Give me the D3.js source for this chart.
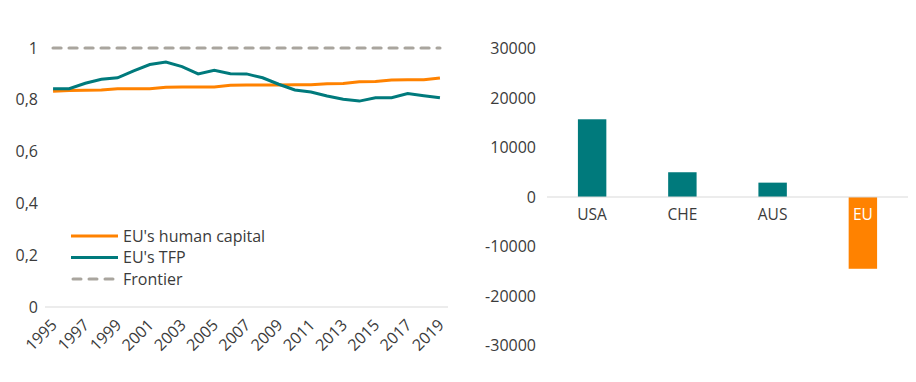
<!DOCTYPE html>
<html>
<head>
<meta charset="utf-8">
<script src="https://cdn.jsdelivr.net/npm/d3@7"></script>
<style>
  body { margin: 0; background: #fff; }
  svg { display: block; font-family: "Open Sans", sans-serif; }
</style>
</head>
<body>
<svg id="chart" width="916" height="382"></svg>
<script>
// Left panel: years and series
const years = d3.range(1995, 2020).map(String);
const humanCapital = [0.833, 0.836, 0.837, 0.838, 0.843, 0.843, 0.843, 0.848, 0.849, 0.849,
    0.849, 0.856, 0.857, 0.857, 0.857, 0.858, 0.858, 0.862, 0.863, 0.870, 0.871, 0.876, 0.877, 0.877, 0.884];
const tfp = [0.843, 0.843, 0.864, 0.879, 0.885, 0.912, 0.936, 0.946, 0.928, 0.900,
    0.914, 0.901, 0.900, 0.885, 0.860, 0.838, 0.830, 0.815, 0.802, 0.795, 0.808, 0.808, 0.824, 0.816, 0.808];
const frontier = years.map(() => 1);
const leftTicks = [0, 0.2, 0.4, 0.6, 0.8, 1];

// Right panel: countries and values
const countries = ["USA", "CHE", "AUS", "EU"];
const gaps = [15700, 5000, 2900, -14500];
const rightTicks = [-30000, -20000, -10000, 0, 10000, 20000, 30000];

const textColor = "#3b3b3b";
const teal = "#007a7c";
const orange = "#ff8200";
const grey = "#a9a59e";

const svg = d3.select("#chart");

// ---------- left line chart ----------
const xL = d3.scaleBand().domain(years).range([45, 448]);
const yL = d3.scaleLinear().domain([0, 1]).range([307, 48]);

const left = svg.append("g");

// y labels
left.selectAll(".ylab")
    .data(leftTicks)
    .enter()
    .append("text")
    .attr("x", 38)
    .attr("y", (d) => yL(d))
    .attr("dy", "0.35em")
    .attr("text-anchor", "end")
    .attr("fill", textColor)
    .style("font-size", "16px")
    .text((d) => d === 0 || d === 1 ? d : String(d).replace(".", ","));

// x axis line
left.append("line")
    .attr("x1", 45).attr("x2", 448)
    .attr("y1", yL(0)).attr("y2", yL(0))
    .attr("stroke", "#d9d9d9").attr("stroke-width", 1);

// year labels (every other year)
left.selectAll(".xlab")
    .data(years.filter((d, i) => i % 2 === 0))
    .enter()
    .append("text")
    .attr("transform", (d) => `translate(${xL(d) + xL.bandwidth() / 2 + 1},322) rotate(-45)`)
    .attr("dy", "0.35em")
    .attr("text-anchor", "end")
    .attr("fill", textColor)
    .style("font-size", "16px")
    .text((d) => d);

const line = d3.line()
    .x((d, i) => xL(years[i]) + xL.bandwidth() / 2)
    .y((d) => yL(d));

left.append("path")
    .datum(frontier)
    .attr("d", line)
    .attr("fill", "none")
    .attr("stroke", grey)
    .attr("stroke-width", 3.2)
    .attr("stroke-dasharray", "8,8")
    .attr("stroke-linecap", "round");

left.append("path")
    .datum(humanCapital)
    .attr("d", line)
    .attr("fill", "none")
    .attr("stroke", orange)
    .attr("stroke-width", 3);

left.append("path")
    .datum(tfp)
    .attr("d", line)
    .attr("fill", "none")
    .attr("stroke", teal)
    .attr("stroke-width", 3);

// legend
const legendItems = [
    { name: "EU's human capital", color: orange, dash: null },
    { name: "EU's TFP", color: teal, dash: null },
    { name: "Frontier", color: grey, dash: "8,8" }
];
const legend = left.selectAll(".leg")
    .data(legendItems)
    .enter()
    .append("g")
    .attr("transform", (d, i) => `translate(0,${236 + i * 21.5})`);

legend.append("line")
    .attr("x1", (d) => d.dash ? 73 : 71)
    .attr("x2", (d) => d.dash ? 115 : 118)
    .attr("stroke", (d) => d.color)
    .attr("stroke-width", 3)
    .attr("stroke-dasharray", (d) => d.dash)
    .attr("stroke-linecap", (d) => d.dash ? "round" : "butt");

legend.append("text")
    .attr("x", 123)
    .attr("dy", "0.35em")
    .attr("fill", textColor)
    .style("font-size", "16px")
    .text((d) => d.name);

// ---------- right bar chart ----------
const xR = d3.scaleBand()
    .domain(countries)
    .range([547, 908])
    .paddingInner(0.685)
    .paddingOuter(0.3425);
const yR = d3.scaleLinear().domain([-30000, 30000]).range([345.5, 48.5]);

const right = svg.append("g");

right.selectAll(".ylab")
    .data(rightTicks)
    .enter()
    .append("text")
    .attr("x", 536)
    .attr("y", (d) => yR(d))
    .attr("dy", "0.35em")
    .attr("text-anchor", "end")
    .attr("fill", textColor)
    .style("font-size", "16px")
    .text((d) => d);

right.selectAll("rect")
    .data(gaps)
    .enter()
    .append("rect")
    .attr("x", (d, i) => xR(countries[i]))
    .attr("width", xR.bandwidth())
    .attr("y", (d) => yR(Math.max(0, d)))
    .attr("height", (d) => Math.abs(yR(d) - yR(0)))
    .attr("fill", (d) => d < 0 ? orange : teal);

right.append("line")
    .attr("x1", 547).attr("x2", 908)
    .attr("y1", yR(0)).attr("y2", yR(0))
    .attr("stroke", "#d9d9d9").attr("stroke-width", 1);

right.selectAll(".xlab")
    .data(countries)
    .enter()
    .append("text")
    .attr("x", (d) => xR(d) + xR.bandwidth() / 2)
    .attr("y", 215)
    .attr("dy", "0.35em")
    .attr("text-anchor", "middle")
    .attr("fill", (d, i) => gaps[i] < 0 ? "#fff" : textColor)
    .style("font-size", "15.5px")
    .text((d) => d);
</script>
</body>
</html>
